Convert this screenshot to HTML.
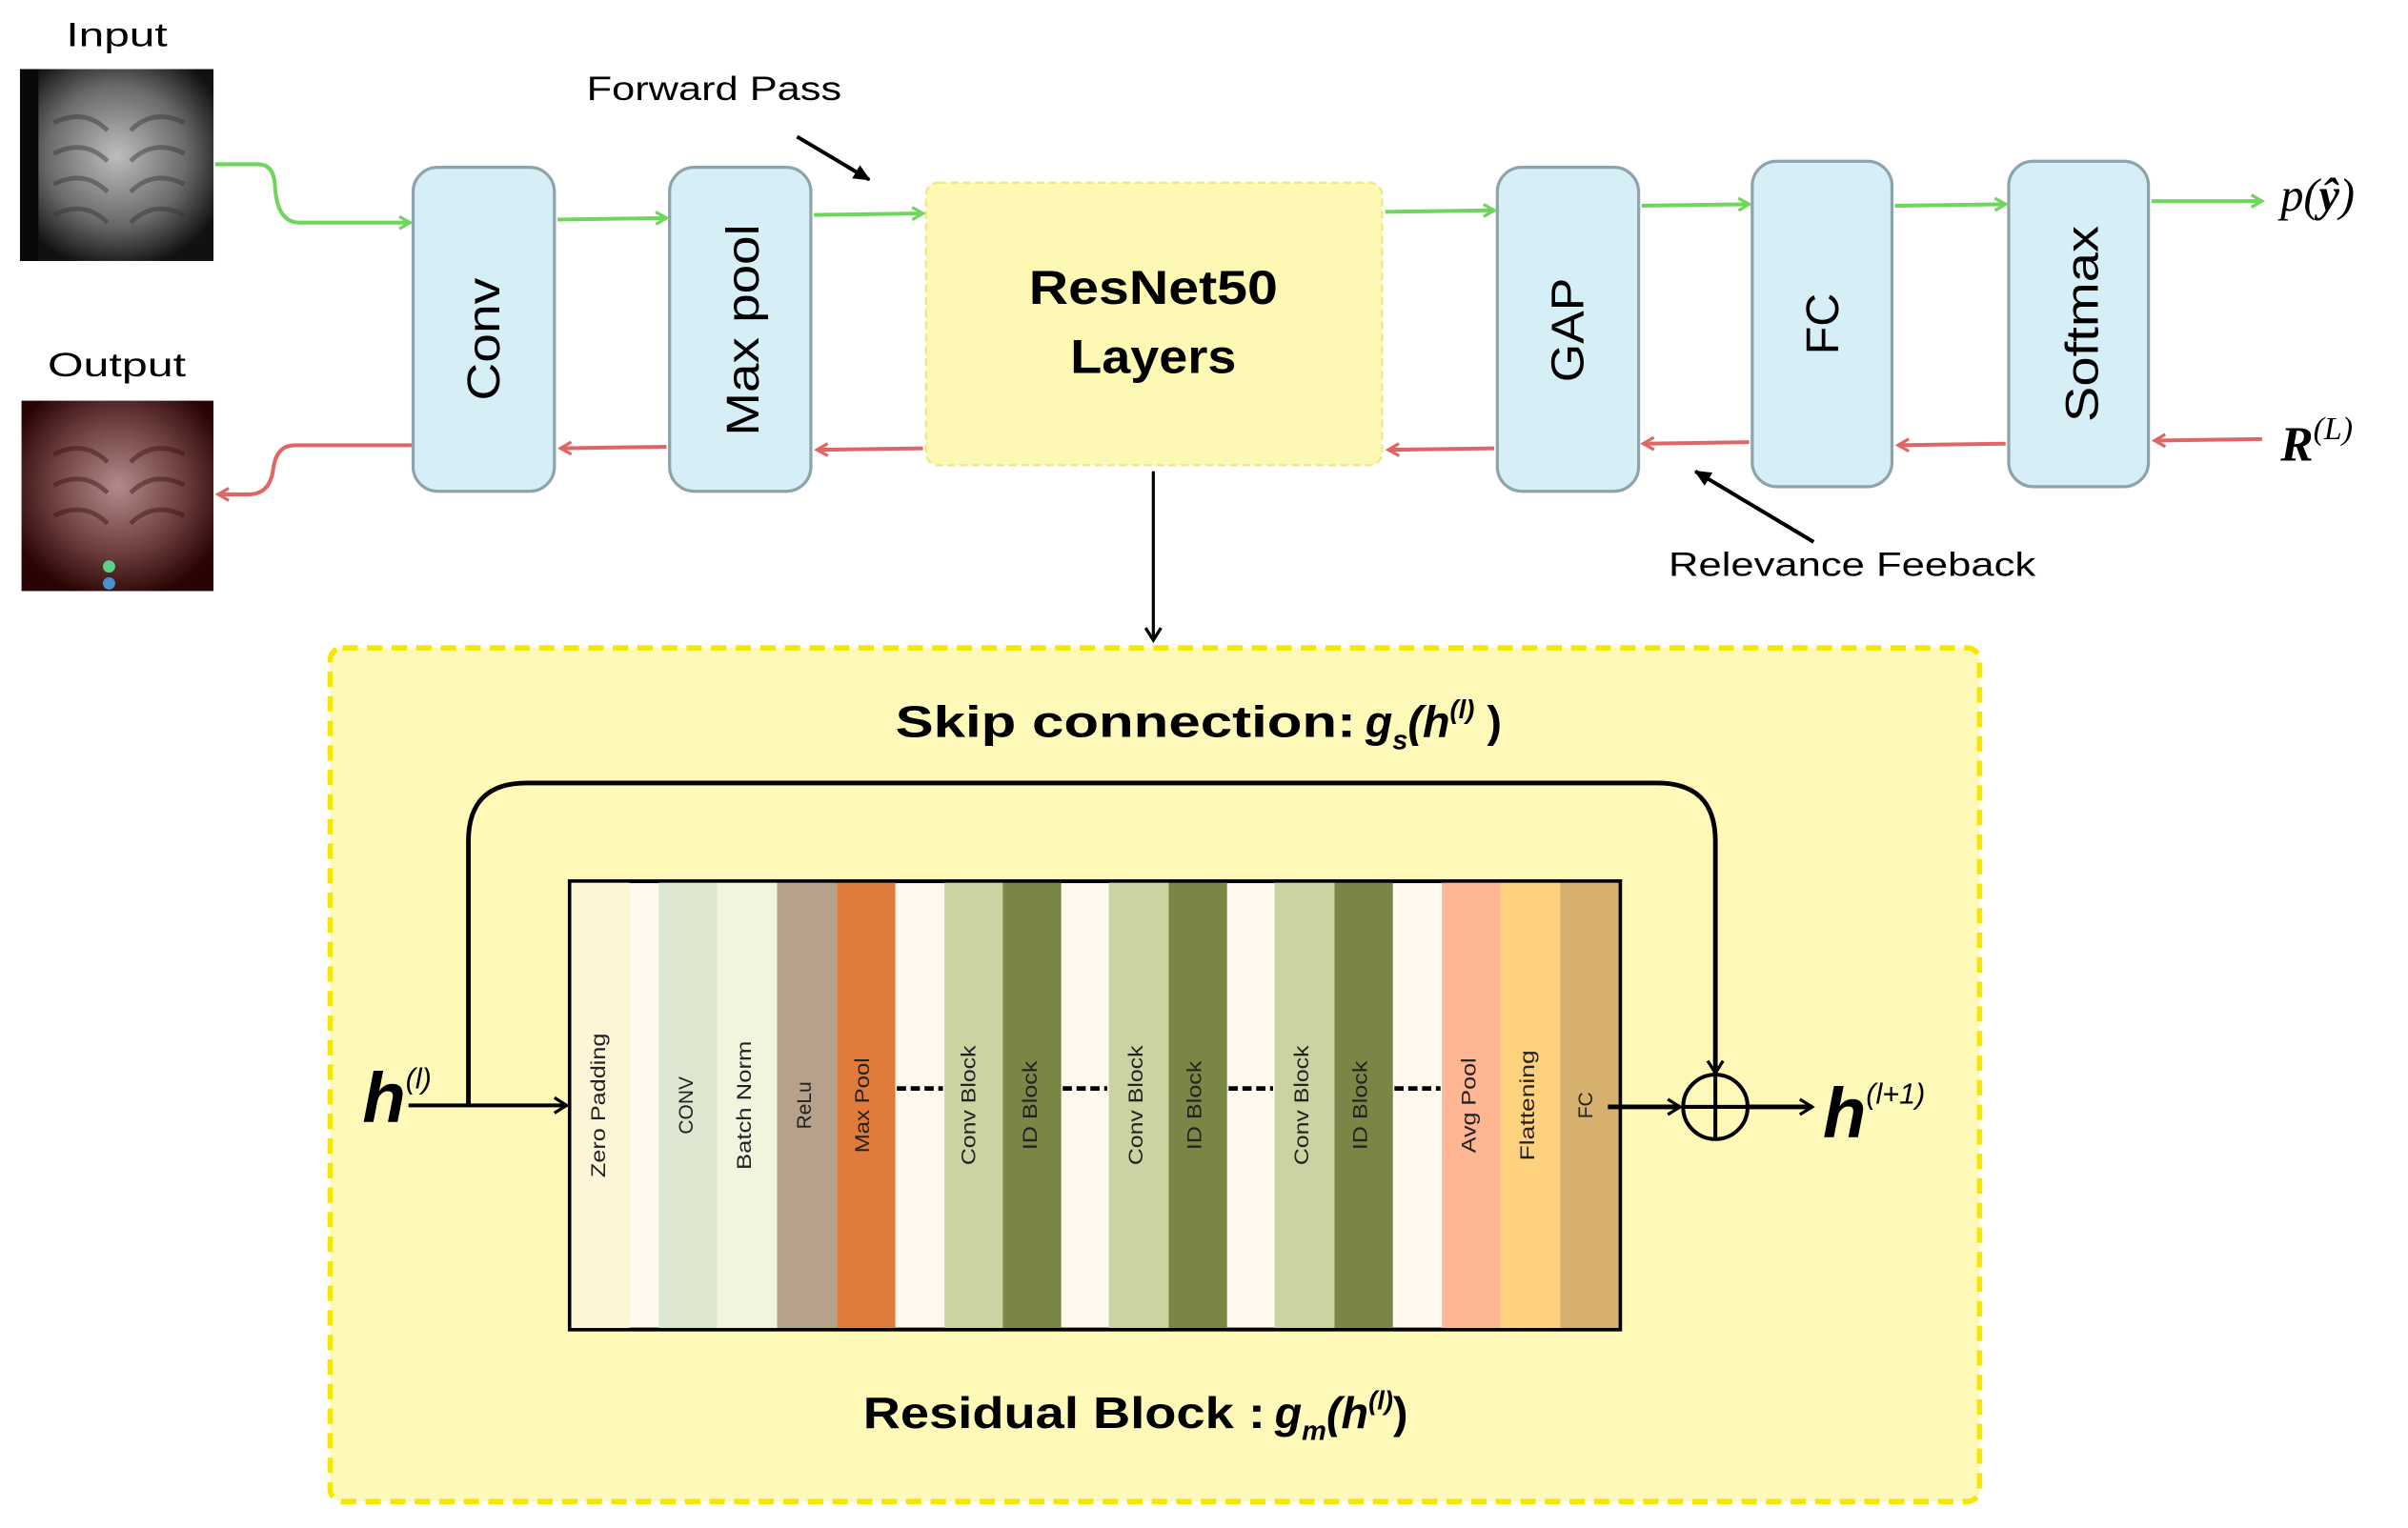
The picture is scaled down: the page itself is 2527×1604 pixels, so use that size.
<!DOCTYPE html>
<html><head><meta charset="utf-8"><style>html,body{margin:0;padding:0;background:#fff}svg{display:block}</style></head><body>
<svg width="2527" height="1604" viewBox="0 0 1568 995.3" xmlns="http://www.w3.org/2000/svg" font-family="Liberation Sans, sans-serif">
<defs>
<marker id="g" markerWidth="10" markerHeight="10" refX="8" refY="5" orient="auto" markerUnits="userSpaceOnUse"><path d="M1,1 L8,5 L1,9" fill="none" stroke="#6ed65c" stroke-width="2"/></marker>
<marker id="r" markerWidth="10" markerHeight="10" refX="8" refY="5" orient="auto" markerUnits="userSpaceOnUse"><path d="M1,1 L8,5 L1,9" fill="none" stroke="#e06666" stroke-width="2"/></marker>
<marker id="k" markerWidth="12" markerHeight="12" refX="9" refY="6" orient="auto" markerUnits="userSpaceOnUse"><path d="M1,1 L9,6 L1,11" fill="none" stroke="#000" stroke-width="2"/></marker>
<marker id="kf" markerWidth="12" markerHeight="12" refX="10" refY="6" orient="auto" markerUnits="userSpaceOnUse"><path d="M0,1 L11,6 L0,11 Z" fill="#000"/></marker>
<radialGradient id="xr" cx="50%" cy="45%" r="60%"><stop offset="0" stop-color="#bdbdbd"/><stop offset="0.6" stop-color="#6a6a6a"/><stop offset="1" stop-color="#111"/></radialGradient>
<radialGradient id="xo" cx="50%" cy="45%" r="60%"><stop offset="0" stop-color="#b58a8a"/><stop offset="0.6" stop-color="#6a3b3b"/><stop offset="1" stop-color="#2a0404"/></radialGradient>
</defs>
<text x="76" y="30" font-size="22" text-anchor="middle" textLength="66" lengthAdjust="spacingAndGlyphs">Input</text>
<rect x="13" y="45" width="126" height="125" fill="url(#xr)"/>
<rect x="13" y="45" width="12" height="125" fill="#080808"/>
<g stroke="#333" stroke-width="3" opacity="0.45" fill="none">
<path d="M35,80 Q55,70 70,85 M35,100 Q55,90 70,105 M35,120 Q55,110 70,125 M35,140 Q55,130 70,145"/>
<path d="M120,80 Q100,70 85,85 M120,100 Q100,90 85,105 M120,120 Q100,110 85,125 M120,140 Q100,130 85,145"/>
</g>
<text x="76" y="245" font-size="22" text-anchor="middle" textLength="90" lengthAdjust="spacingAndGlyphs">Output</text>
<rect x="14" y="261" width="125" height="124" fill="url(#xo)"/>
<g stroke="#3a1010" stroke-width="3" opacity="0.45" fill="none">
<path d="M35,296 Q55,286 70,301 M35,316 Q55,306 70,321 M35,336 Q55,326 70,341"/>
<path d="M120,296 Q100,286 85,301 M120,316 Q100,306 85,321 M120,336 Q100,326 85,341"/>
</g>
<circle cx="71" cy="369" r="4" fill="#5fd08a"/><circle cx="71" cy="380" r="4" fill="#4a8fd0"/>

<g fill="#d6eef6" stroke="#8fa3ab" stroke-width="2">
<rect x="269" y="109" width="92" height="211" rx="16"/>
<rect x="436" y="109" width="92" height="211" rx="16"/>
<rect x="975" y="109" width="92" height="211" rx="16"/>
<rect x="1141" y="105" width="91" height="212" rx="16"/>
<rect x="1308" y="105" width="91" height="212" rx="16"/>
</g>
<rect x="603" y="119" width="297" height="184" rx="8" fill="#fef8b5" stroke="#f1e68a" stroke-width="1.5" stroke-dasharray="5,3"/>
<g font-size="30" text-anchor="middle">
<text transform="translate(325,221) rotate(-90)" textLength="80" lengthAdjust="spacingAndGlyphs">Conv</text>
<text transform="translate(494,215) rotate(-90)" textLength="138" lengthAdjust="spacingAndGlyphs">Max pool</text>
<text transform="translate(1031,215) rotate(-90)" textLength="68" lengthAdjust="spacingAndGlyphs">GAP</text>
<text transform="translate(1197,211) rotate(-90)" textLength="40" lengthAdjust="spacingAndGlyphs">FC</text>
<text transform="translate(1366,211) rotate(-90)" textLength="128" lengthAdjust="spacingAndGlyphs">Softmax</text>
</g>
<text x="751" y="198" font-size="31" font-weight="bold" text-anchor="middle" textLength="162" lengthAdjust="spacingAndGlyphs">ResNet50</text>
<text x="751" y="243" font-size="31" font-weight="bold" text-anchor="middle" textLength="108" lengthAdjust="spacingAndGlyphs">Layers</text>

<g fill="none" stroke="#6ed65c" stroke-width="2.5" marker-end="url(#g)">
<path d="M140,107 L168,107 Q178,107 179,120 Q180,145 195,145 L267,145"/>
<path d="M363,143 L434,142"/>
<path d="M530,140 L601,139"/>
<path d="M902,138 L973,137"/>
<path d="M1069,134 L1139,133"/>
<path d="M1234,134 L1306,133"/>
<path d="M1401,131 L1473,131"/>
</g>
<g fill="none" stroke="#e06666" stroke-width="2.5" marker-end="url(#r)">
<path d="M1473,286 L1403,287"/>
<path d="M1306,289 L1236,290"/>
<path d="M1139,288 L1070,289"/>
<path d="M973,292 L904,293"/>
<path d="M601,292 L532,293"/>
<path d="M434,291 L365,292"/>
<path d="M268,290 L192,290 Q180,290 178,305 Q176,322 162,322 L142,322"/>
</g>
<text x="1485" y="137" font-size="30" font-style="italic" font-family="Liberation Serif, serif">p(<tspan font-weight="bold">ŷ</tspan>)</text>
<text x="1485" y="300" font-size="32" font-style="italic" font-weight="bold" font-family="Liberation Serif, serif">R<tspan font-size="21" dy="-14" font-weight="normal">(L)</tspan></text>

<text x="465" y="65" font-size="22" text-anchor="middle" textLength="166" lengthAdjust="spacingAndGlyphs">Forward Pass</text>
<path d="M519,89 L566,117" stroke="#000" stroke-width="2.5" marker-end="url(#kf)"/>
<text x="1206" y="375" font-size="22" text-anchor="middle" textLength="239" lengthAdjust="spacingAndGlyphs">Relevance Feeback</text>
<path d="M1181,353 L1104,307" stroke="#000" stroke-width="2.5" marker-end="url(#kf)"/>
<path d="M751,307 L751,417" stroke="#000" stroke-width="2" marker-end="url(#k)"/>

<rect x="215" y="422" width="1074" height="556" rx="8" fill="#fef8b9" stroke="#f5e800" stroke-width="3.5" stroke-dasharray="10,6"/>
<text x="583" y="480" font-size="29" font-weight="bold"><tspan textLength="300" lengthAdjust="spacingAndGlyphs">Skip connection:</tspan><tspan dx="6" font-style="italic">g</tspan><tspan font-size="18" dy="8" font-style="italic">s</tspan><tspan dy="-8" font-style="italic">(h</tspan><tspan font-size="17" dy="-12" font-style="italic">(l)</tspan><tspan dy="12"> )</tspan></text>
<text x="562" y="930" font-size="29" font-weight="bold"><tspan textLength="262" lengthAdjust="spacingAndGlyphs">Residual Block :</tspan><tspan dx="6" font-style="italic">g</tspan><tspan font-size="18" dy="8" font-style="italic">m</tspan><tspan dy="-8" font-style="italic">(h</tspan><tspan font-size="17" dy="-12" font-style="italic">(l)</tspan><tspan dy="12">)</tspan></text>

<path d="M305,720 L305,548 Q305,510 343,510 L1079,510 Q1117,510 1117,548 L1117,699" fill="none" stroke="#000" stroke-width="3" marker-end="url(#k)"/>
<text x="236" y="731" font-size="46" font-weight="bold" font-style="italic">h<tspan font-size="19" dy="-22" font-weight="normal">(l)</tspan></text>
<path d="M266,720 L369,720" stroke="#000" stroke-width="2.5" marker-end="url(#k)"/>

<rect x="371" y="574" width="684" height="292" fill="#fff9ee" stroke="#000" stroke-width="2.5"/>
<g>
<rect x="372" y="575" width="38" height="290" fill="#fdf5d7"/>
<rect x="429" y="575" width="38" height="290" fill="#dde6cf"/>
<rect x="467" y="575" width="39" height="290" fill="#f3f4dd"/>
<rect x="506" y="575" width="39" height="290" fill="#b6a18b"/>
<rect x="545" y="575" width="38" height="290" fill="#e07b3b"/>
<rect x="615" y="575" width="38" height="290" fill="#cbd3a2"/>
<rect x="653" y="575" width="38" height="290" fill="#7a8646"/>
<rect x="722" y="575" width="39" height="290" fill="#cbd3a2"/>
<rect x="761" y="575" width="38" height="290" fill="#7a8646"/>
<rect x="830" y="575" width="39" height="290" fill="#cbd3a2"/>
<rect x="869" y="575" width="38" height="290" fill="#7a8646"/>
<rect x="939" y="575" width="38" height="290" fill="#feb592"/>
<rect x="977" y="575" width="39" height="290" fill="#fed17f"/>
<rect x="1016" y="575" width="38" height="290" fill="#d6b06c"/>
</g>
<g font-size="13" text-anchor="middle" fill="#222">
<text transform="translate(394,720) rotate(-90)" textLength="94" lengthAdjust="spacingAndGlyphs">Zero Padding</text>
<text transform="translate(451,720) rotate(-90)">CONV</text>
<text transform="translate(489,720) rotate(-90)" textLength="84" lengthAdjust="spacingAndGlyphs">Batch Norm</text>
<text transform="translate(528,720) rotate(-90)">ReLu</text>
<text transform="translate(566,720) rotate(-90)" textLength="62" lengthAdjust="spacingAndGlyphs">Max Pool</text>
<text transform="translate(635,720) rotate(-90)" textLength="78" lengthAdjust="spacingAndGlyphs">Conv Block</text>
<text transform="translate(675,720) rotate(-90)" textLength="58" lengthAdjust="spacingAndGlyphs">ID Block</text>
<text transform="translate(744,720) rotate(-90)" textLength="78" lengthAdjust="spacingAndGlyphs">Conv Block</text>
<text transform="translate(782,720) rotate(-90)" textLength="58" lengthAdjust="spacingAndGlyphs">ID Block</text>
<text transform="translate(852,720) rotate(-90)" textLength="78" lengthAdjust="spacingAndGlyphs">Conv Block</text>
<text transform="translate(890,720) rotate(-90)" textLength="58" lengthAdjust="spacingAndGlyphs">ID Block</text>
<text transform="translate(961,720) rotate(-90)" textLength="62" lengthAdjust="spacingAndGlyphs">Avg Pool</text>
<text transform="translate(999,720) rotate(-90)" textLength="72" lengthAdjust="spacingAndGlyphs">Flattening</text>
<text transform="translate(1037,720) rotate(-90)">FC</text>
</g>
<g stroke="#000" stroke-width="3" stroke-dasharray="6,3">
<path d="M584,709 L614,709"/><path d="M692,709 L721,709"/><path d="M800,709 L829,709"/><path d="M908,709 L938,709"/>
</g>
<path d="M1047,721 L1094,721" stroke="#000" stroke-width="3" marker-end="url(#k)"/>
<circle cx="1117" cy="721" r="21" fill="none" stroke="#000" stroke-width="2.5"/>
<path d="M1096,721 L1138,721 M1117,700 L1117,742" stroke="#000" stroke-width="2.5"/>
<path d="M1138,721 L1180,721" stroke="#000" stroke-width="3" marker-end="url(#k)"/>
<text x="1187" y="741" font-size="46" font-weight="bold" font-style="italic">h<tspan font-size="19" dy="-22" font-weight="normal">(l+1)</tspan></text>
</svg>
</body></html>
